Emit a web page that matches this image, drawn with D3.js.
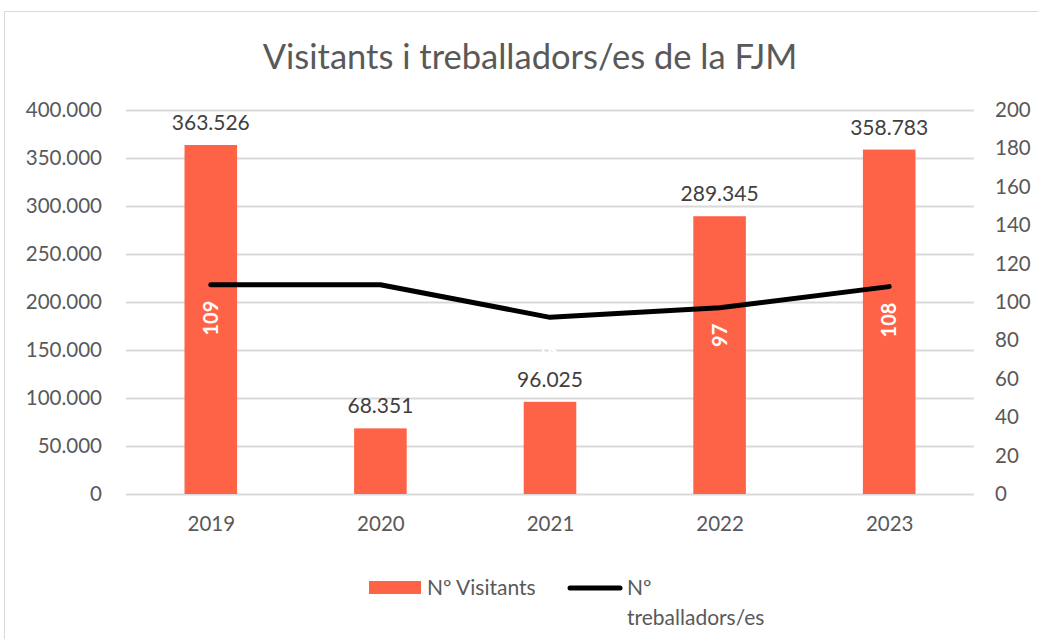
<!DOCTYPE html>
<html>
<head>
<meta charset="utf-8">
<script src="https://cdn.jsdelivr.net/npm/d3@7"></script>
<style>
  body { margin: 0; background: #fff; }
  text { font-family: Lato, "Open Sans", sans-serif; }
</style>
</head>
<body>
<div id="chart"></div>
<script>
// Data
var years = ["2019", "2020", "2021", "2022", "2023"];
var visitants = [363526, 68351, 96025, 289345, 358783];
var treballadors = [109, 109, 92, 97, 108];
var shownLineLabels = ["2019", "2021", "2022", "2023"];
var leftTicks = [0, 50000, 100000, 150000, 200000, 250000, 300000, 350000, 400000];
var rightTicks = [0, 20, 40, 60, 80, 100, 120, 140, 160, 180, 200];

var svgWidth = 1038;
var svgHeight = 639;

var margin = { top: 110, right: 64, bottom: 145, left: 126 };
var width = svgWidth - margin.left - margin.right;
var height = svgHeight - margin.top - margin.bottom;

var loc = d3.formatLocale({ decimal: ",", thousands: ".", grouping: [3], currency: ["", "€"] });
var fmt = loc.format(",");

var svg = d3.select("#chart")
  .append("svg")
  .attr("width", svgWidth)
  .attr("height", svgHeight);

// chart border
svg.append("rect")
  .attr("x", 4.5)
  .attr("y", 11.5)
  .attr("width", 1040)
  .attr("height", 640)
  .attr("fill", "none")
  .attr("stroke", "#d9d9d9");

var chartGroup = svg.append("g")
  .attr("transform", `translate(${margin.left}, ${margin.top})`);

// Scales
var x = d3.scaleBand()
  .domain(years)
  .range([0, width])
  .paddingInner(0.69)
  .paddingOuter(0.345);

var xCenter = d3.scalePoint()
  .domain(years)
  .range([0, width])
  .padding(0.5);

var yLeft = d3.scaleLinear().domain([0, 400000]).range([height, 0]);
var yRight = d3.scaleLinear().domain([0, 200]).range([height, 0]);

// Gridlines
chartGroup.append("g")
  .selectAll("line")
  .data(leftTicks)
  .enter()
  .append("line")
  .attr("x1", 0)
  .attr("x2", width)
  .attr("y1", d => Math.round(yLeft(d)) + 0.5)
  .attr("y2", d => Math.round(yLeft(d)) + 0.5)
  .attr("stroke", "#d9d9d9")
  .attr("stroke-width", 2);

// Left axis
var leftAxis = d3.axisLeft(yLeft).tickValues(leftTicks).tickSize(0).tickPadding(24).tickFormat(fmt);
var gl = chartGroup.append("g").call(leftAxis);
gl.select(".domain").remove();
gl.selectAll("text")
  .style("font-family", "Lato, 'Open Sans', sans-serif")
  .style("font-size", "20.5px")
  .attr("fill", "#595959");

// Right axis
var rightAxis = d3.axisRight(yRight).tickValues(rightTicks).tickSize(0).tickPadding(21);
var gr = chartGroup.append("g")
  .attr("transform", `translate(${width}, 0)`)
  .call(rightAxis);
gr.select(".domain").remove();
gr.selectAll("text")
  .style("font-family", "Lato, 'Open Sans', sans-serif")
  .style("font-size", "20.5px")
  .attr("fill", "#595959");

// Bottom axis
var bottomAxis = d3.axisBottom(xCenter).tickSize(0).tickPadding(22);
var gb = chartGroup.append("g")
  .attr("transform", `translate(0, ${height})`)
  .call(bottomAxis);
gb.select(".domain").remove();
gb.selectAll("text")
  .style("font-family", "Lato, 'Open Sans', sans-serif")
  .style("font-size", "20.5px")
  .attr("fill", "#595959");

// Bars
chartGroup.selectAll(".bar")
  .data(years)
  .enter()
  .append("rect")
  .attr("class", "bar")
  .attr("x", d => x(d))
  .attr("y", (d, i) => yLeft(visitants[i]))
  .attr("width", x.bandwidth())
  .attr("height", (d, i) => height - yLeft(visitants[i]))
  .attr("fill", "#ff6347");

// Bar labels
chartGroup.selectAll(".barLabel")
  .data(years)
  .enter()
  .append("text")
  .attr("class", "barLabel")
  .attr("x", d => xCenter(d))
  .attr("y", (d, i) => yLeft(visitants[i]) - 15)
  .attr("text-anchor", "middle")
  .style("font-size", "21px")
  .attr("fill", "#404040")
  .text((d, i) => fmt(visitants[i]));

// Line
var line = d3.line()
  .x(d => xCenter(d[0]))
  .y(d => yRight(d[1]));

chartGroup.append("path")
  .datum(years.map((d, i) => [d, treballadors[i]]))
  .attr("d", line)
  .attr("fill", "none")
  .attr("stroke", "#000")
  .attr("stroke-width", 5)
  .attr("stroke-linecap", "round")
  .attr("stroke-linejoin", "round");

// Line labels (white, rotated)
chartGroup.selectAll(".lineLabel")
  .data(years.map((d, i) => [d, treballadors[i]]).filter(d => shownLineLabels.includes(d[0])))
  .enter()
  .append("text")
  .attr("class", "lineLabel")
  .attr("transform", d => `translate(${xCenter(d[0]) + 7}, ${yRight(d[1]) + 16}) rotate(-90)`)
  .attr("text-anchor", "end")
  .style("font-size", "20px")
  .style("font-weight", "bold")
  .attr("fill", "#fff")
  .text(d => d[1]);

// Title
svg.append("text")
  .attr("x", 530)
  .attr("y", 69)
  .attr("text-anchor", "middle")
  .style("font-size", "34.5px")
  .attr("fill", "#595959")
  .text("Visitants i treballadors/es de la FJM");

// Legend
var legend = svg.append("g");
legend.append("rect")
  .attr("x", 369)
  .attr("y", 581)
  .attr("width", 52)
  .attr("height", 13)
  .attr("fill", "#ff6347");
legend.append("text")
  .attr("x", 427)
  .attr("y", 595)
  .style("font-size", "21px")
  .attr("fill", "#595959")
  .text("Nº Visitants");
legend.append("line")
  .attr("x1", 570)
  .attr("x2", 620)
  .attr("y1", 588)
  .attr("y2", 588)
  .attr("stroke", "#000")
  .attr("stroke-width", 5)
  .attr("stroke-linecap", "round");
legend.append("text")
  .attr("x", 627)
  .attr("y", 595)
  .style("font-size", "21px")
  .attr("fill", "#595959")
  .text("Nº");
legend.append("text")
  .attr("x", 627)
  .attr("y", 625)
  .style("font-size", "21px")
  .attr("fill", "#595959")
  .text("treballadors/es");
</script>
</body>
</html>
